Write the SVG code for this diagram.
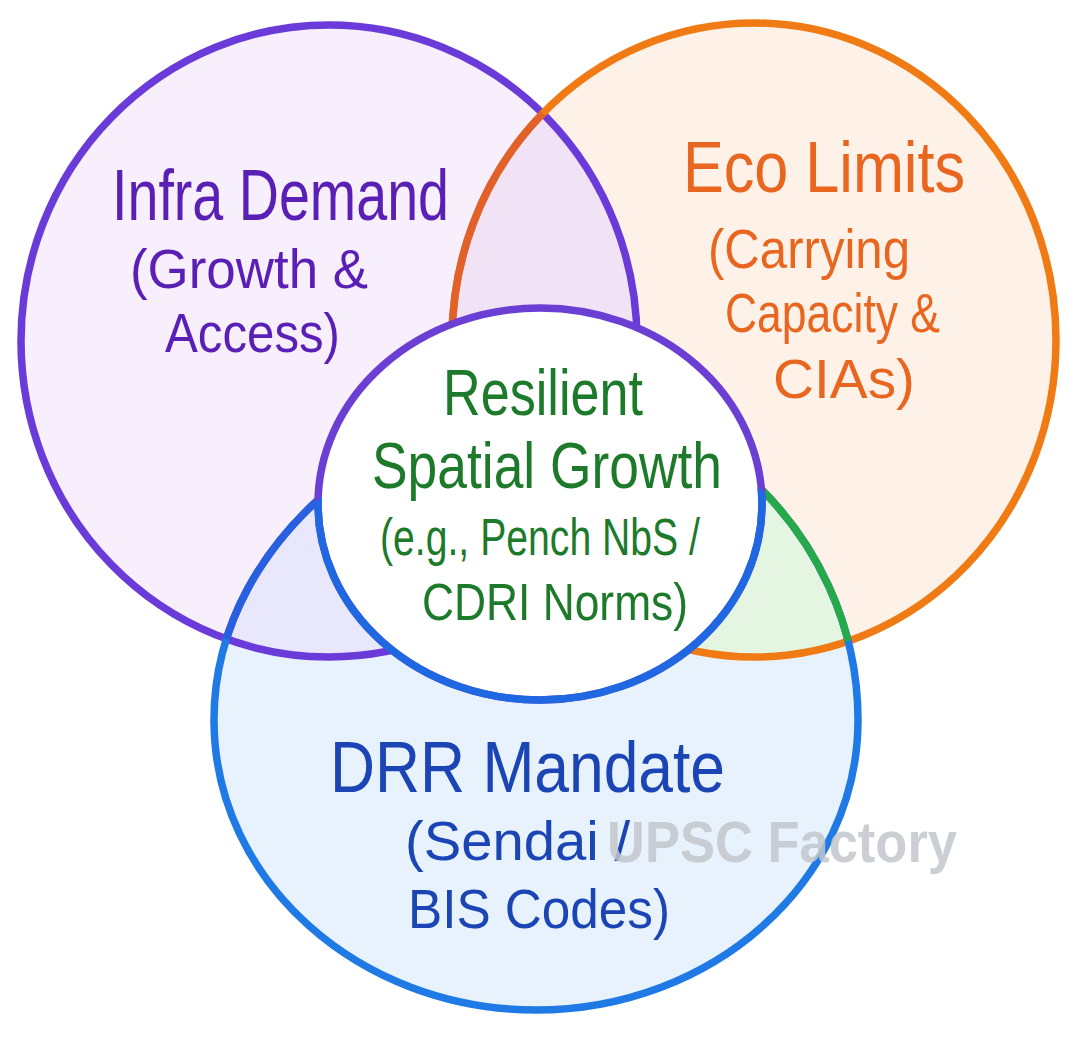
<svg xmlns="http://www.w3.org/2000/svg" width="1080" height="1054" viewBox="0 0 1080 1054">
<defs>
<style>
.lbl{font-family:"Liberation Sans","Noto Sans",sans-serif;font-weight:400}
.title{font-size:72px}
.sub{font-size:56px}
.ctitle{font-size:64px}
.csub{font-size:52px}
.purple{fill:#5a20b5}
.orange{fill:#e8661f}
.green{fill:#1d7a2b}
.blue{fill:#1b44b4}
.ring{fill:none;stroke-width:7.5;stroke-linecap:round}
.wm{font-family:"Liberation Sans","Noto Sans",sans-serif;font-weight:700;font-size:58px;fill:#c3c7cc;opacity:0.85}
</style>
<clipPath id="clipPurple"><ellipse cx="329" cy="341" rx="308" ry="316"/></clipPath>
<clipPath id="clipOrange"><ellipse cx="754" cy="340" rx="302" ry="317"/></clipPath>
<clipPath id="clipBlue"><path d="M320,498 C268,545 214,620 214,720 C214,882 360,1010 536,1010 C712,1010 858,882 858,720 C858,620 812,540 762,490 Q540,390 320,498 Z"/></clipPath>
</defs>
<rect width="1080" height="1054" fill="#ffffff"/>

<g id="region-fills">
<ellipse cx="329" cy="341" rx="308" ry="316" fill="#f7effc"/>
<ellipse cx="754" cy="340" rx="302" ry="317" fill="#fef2e8"/>
<path d="M320,498 C268,545 214,620 214,720 C214,882 360,1010 536,1010 C712,1010 858,882 858,720 C858,620 812,540 762,490 Q540,390 320,498 Z" fill="#e7f2fd"/>
<ellipse cx="754" cy="340" rx="302" ry="317" fill="#f1e2f6" clip-path="url(#clipPurple)"/>
<path d="M320,498 C268,545 214,620 214,720 C214,882 360,1010 536,1010 C712,1010 858,882 858,720 C858,620 812,540 762,490 Q540,390 320,498 Z" fill="#e9e7fb" clip-path="url(#clipPurple)"/>
<path d="M320,498 C268,545 214,620 214,720 C214,882 360,1010 536,1010 C712,1010 858,882 858,720 C858,620 812,540 762,490 Q540,390 320,498 Z" fill="#e4f6e2" clip-path="url(#clipOrange)"/>
</g>

<g id="infra-demand">
<ellipse class="ring" cx="329" cy="341" rx="308" ry="316" stroke="#6a3bd8"/>
<text class="lbl title purple" x="112" y="220" textLength="337" lengthAdjust="spacingAndGlyphs">Infra Demand</text>
<text class="lbl sub purple" x="130" y="288" textLength="238" lengthAdjust="spacingAndGlyphs">(Growth &amp;</text>
<text class="lbl sub purple" x="165" y="352" textLength="175" lengthAdjust="spacingAndGlyphs">Access)</text>
</g>

<g id="eco-limits">
<ellipse class="ring" cx="754" cy="340" rx="302" ry="317" stroke="#f07b14"/>
<ellipse class="ring" cx="754" cy="340" rx="302" ry="317" stroke="#e2602a" clip-path="url(#clipPurple)"/>
<text class="lbl title orange" x="683" y="192" textLength="282" lengthAdjust="spacingAndGlyphs">Eco Limits</text>
<text class="lbl sub orange" x="708" y="268" textLength="202" lengthAdjust="spacingAndGlyphs">(Carrying</text>
<text class="lbl sub orange" x="725" y="332" textLength="215" lengthAdjust="spacingAndGlyphs">Capacity &amp;</text>
<text class="lbl sub orange" x="773" y="398" textLength="142" lengthAdjust="spacingAndGlyphs">CIAs)</text>
</g>

<g id="drr-mandate">
<path class="ring" d="M320,498 C268,545 214,620 214,720 C214,882 360,1010 536,1010 C712,1010 858,882 858,720 C858,620 812,540 762,490" stroke="#1f7ae6"/>
<path class="ring" d="M320,498 C268,545 214,620 214,720 C214,882 360,1010 536,1010 C712,1010 858,882 858,720 C858,620 812,540 762,490" stroke="#2a5fe0" clip-path="url(#clipPurple)"/>
<path class="ring" d="M320,498 C268,545 214,620 214,720 C214,882 360,1010 536,1010 C712,1010 858,882 858,720 C858,620 812,540 762,490" stroke="#27a84a" clip-path="url(#clipOrange)"/>
<text class="lbl title blue" x="330" y="792" textLength="395" lengthAdjust="spacingAndGlyphs">DRR Mandate</text>
<text class="lbl sub blue" x="405" y="860" textLength="225" lengthAdjust="spacingAndGlyphs">(Sendai /</text>
<text class="lbl sub blue" x="408" y="928" textLength="262" lengthAdjust="spacingAndGlyphs">BIS Codes)</text>
</g>

<g id="resilient-spatial-growth">
<ellipse cx="540" cy="504" rx="222" ry="196" fill="#ffffff"/>
<ellipse class="ring" cx="540" cy="504" rx="222" ry="196" stroke="#6b3fd3"/>
<ellipse class="ring" cx="540" cy="504" rx="222" ry="196" stroke="#2068e2" clip-path="url(#clipBlue)"/>
<text class="lbl ctitle green" x="443" y="415" textLength="200" lengthAdjust="spacingAndGlyphs">Resilient</text>
<text class="lbl ctitle green" x="372" y="488" textLength="350" lengthAdjust="spacingAndGlyphs">Spatial Growth</text>
<text class="lbl csub green" x="380" y="555" textLength="320" lengthAdjust="spacingAndGlyphs">(e.g., Pench NbS /</text>
<text class="lbl csub green" x="422" y="620" textLength="266" lengthAdjust="spacingAndGlyphs">CDRI Norms)</text>
</g>

<text class="wm" x="607" y="862" textLength="350" lengthAdjust="spacingAndGlyphs">UPSC Factory</text>
</svg>
